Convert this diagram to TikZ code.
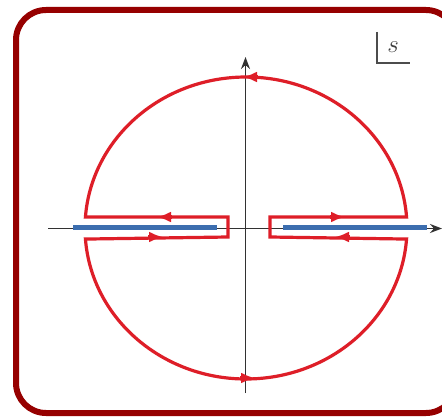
\documentclass[tikz,border=0pt]{standalone}
\usetikzlibrary{arrows.meta,calc}
\definecolor{frame}{RGB}{150,0,0}
\definecolor{cont}{RGB}{222,30,40}
\definecolor{cut}{RGB}{60,110,175}
\definecolor{axis}{RGB}{50,50,50}
\tikzset{
  framebox/.style={draw=frame,line width=6pt,rounded corners=30pt},
  contour/.style={draw=cont,line width=3.2pt,line join=miter},
  branch/.style={draw=cut,line width=4.5pt},
  axisline/.style={draw=axis,line width=1.8pt,-{Stealth[length=12pt,width=9pt]}},
  tip/.style={draw=cont,line width=3.2pt,-{Latex[length=14pt,width=11pt]}},
  sbox/.style={draw=black!70,line width=1.5pt}
}
\begin{document}
\begin{tikzpicture}[x=1pt,y=1pt]
\useasboundingbox (0,0) rectangle (442,416);
\fill[white] (0,0) rectangle (442,416);
\draw[framebox] (16,3) rectangle (456,406);
% axes
\coordinate (xs) at (48,187.5);
\coordinate (xe) at (442,187.5);
\coordinate (ys) at (245.5,23);
\coordinate (ye) at (245.5,359);
\draw[axisline] (xs) -- (xe);
\draw[axisline] (ys) -- (ye);
% branch cuts
\coordinate (bl1) at (73,188.5);
\coordinate (bl2) at (217,188.5);
\coordinate (br1) at (283,188.5);
\coordinate (br2) at (427,188.5);
\draw[branch] (bl1) -- (bl2);
\draw[branch] (br1) -- (br2);
% contour
\coordinate (c) at (246,188);
\draw[contour]
  ($(c)+(4.2:161 and 151)$) arc[start angle=4.2,end angle=175.8,x radius=161,y radius=151]
  -- (228,199) -- (228,179) -- ($(c)+(184.2:161 and 151)$)
  arc[start angle=184.2,end angle=355.8,x radius=161,y radius=151]
  -- (270,179) -- (270,199) -- cycle;
% direction tips
\draw[tip] (258,339) -- (243,339);
\draw[tip] (240,38) -- (255,38);
\draw[tip] (172,199) -- (157,199);
\draw[tip] (148,179) -- (163,179);
\draw[tip] (330,199) -- (345,199);
\draw[tip] (350,179) -- (335,179);
% s label
\coordinate (s1) at (377,384);
\coordinate (s2) at (377,353);
\coordinate (s3) at (410,353);
\draw[sbox] (s1) -- (s2) -- (s3);
\node[text=black!75,font=\fontsize{28}{28}\selectfont] (slab) at (393,369) {$s$};
\end{tikzpicture}
\end{document}
